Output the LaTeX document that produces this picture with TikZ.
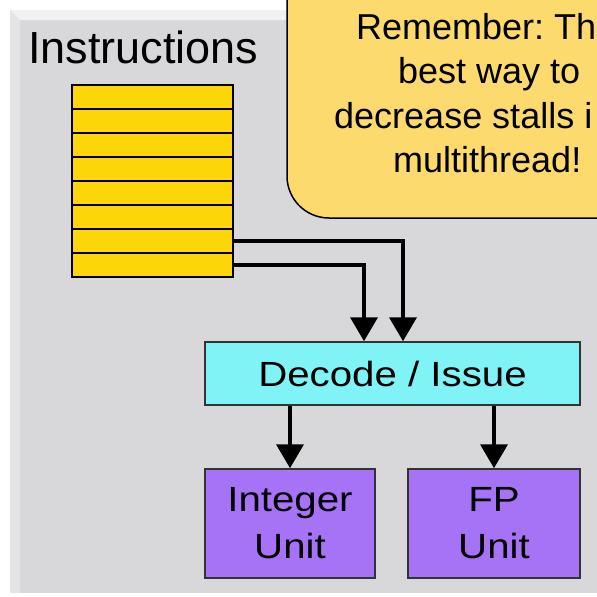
\documentclass[tikz,border=0pt]{standalone}
\usepackage{fontspec}
\setmainfont{Liberation Sans}
\newfontfamily\unitfont[FakeStretch=1.15]{Liberation Sans}
\usetikzlibrary{arrows.meta}
\frenchspacing
\definecolor{panelgray}{HTML}{D8D8DA}
\definecolor{bevellight}{HTML}{F1F1F2}
\definecolor{bevelside}{HTML}{E4E4E6}
\definecolor{slotyellow}{HTML}{FDD60A}
\definecolor{notebg}{HTML}{FDDA6E}
\definecolor{decodecyan}{HTML}{7FF3F5}
\definecolor{unitpurple}{HTML}{A673F7}

\begin{document}
\begin{tikzpicture}[x=1pt,y=-1pt,
  slot/.style={draw=black, line width=1.6pt, fill=slotyellow,
    minimum width=161pt, minimum height=24pt, inner sep=0pt},
  unitbox/.style={draw=black!80, line width=1.5pt, minimum height=109pt,
    inner sep=0pt, align=center, font=\unitfont\fontsize{35}{47}\selectfont},
  notetext/.style={anchor=base west, inner sep=0pt, font=\fontsize{36}{44}\selectfont},
  flow/.style={line width=4pt, -{Triangle[width=27pt,length=24pt]}}]
    \useasboundingbox (0,0) rectangle (597,597);
    \clip (0,0) rectangle (597,597);
    % Panel with bevelled edges
    \fill[white] (0,0) rectangle (597,597);
    \fill[panelgray] (10,10) rectangle (600,593);
    \fill[bevellight] (10,10) -- (600,10) -- (600,20) -- (20,20) -- cycle;
    \fill[bevelside] (10,10) -- (20,20) -- (20,593) -- (10,593) -- cycle;
    % Instruction queue
    \node[anchor=base west, inner sep=0pt, font=\fontsize{45}{50}\selectfont] (title) at (28,63) {Instructions};
    \node[slot] (row1) at (152.5,97) {};
    \node[slot] (row2) at (152.5,121) {};
    \node[slot] (row3) at (152.5,145) {};
    \node[slot] (row4) at (152.5,169) {};
    \node[slot] (row5) at (152.5,193) {};
    \node[slot] (row6) at (152.5,217) {};
    \node[slot] (row7) at (152.5,241) {};
    \node[slot] (row8) at (152.5,265) {};
    % Decode stage and execution units
    \node[draw=black!80, line width=1.5pt, fill=decodecyan, minimum width=375pt, minimum height=63pt,
      inner sep=0pt, font=\unitfont\fontsize{35}{47}\selectfont] (dec) at (392.5,373.5) {Decode / Issue};
    \node[unitbox, fill=unitpurple, minimum width=170pt] (int) at (290,523.5) {Integer\\Unit};
    \node[unitbox, fill=unitpurple, minimum width=172pt] (fp) at (494,523.5) {FP\\Unit};
    % Arrows
    \draw[flow] (row7.east) -| ([xshift=10.5pt]dec.north);
    \draw[flow] (row8.east) -| ([xshift=-28.5pt]dec.north);
    \draw[flow] (dec.south -| int.north) -- (int.north);
    \draw[flow] (dec.south -| fp.north) -- (fp.north);
    % Reminder callout
    \draw[fill=notebg, line width=1.5pt, rounded corners=42pt] (287,-60) -- (287,218) -- (720,218) -- (720,-60) -- cycle;
    \node[notetext] (note1) at (356,39) {Remember: Th};
    \node[notetext] (note2) at (398,83) {best way to};
    \node[notetext] (note3) at (334,128) {decrease stalls i};
    \node[notetext] (note4) at (393,172) {multithread!};
\end{tikzpicture}
\end{document}
